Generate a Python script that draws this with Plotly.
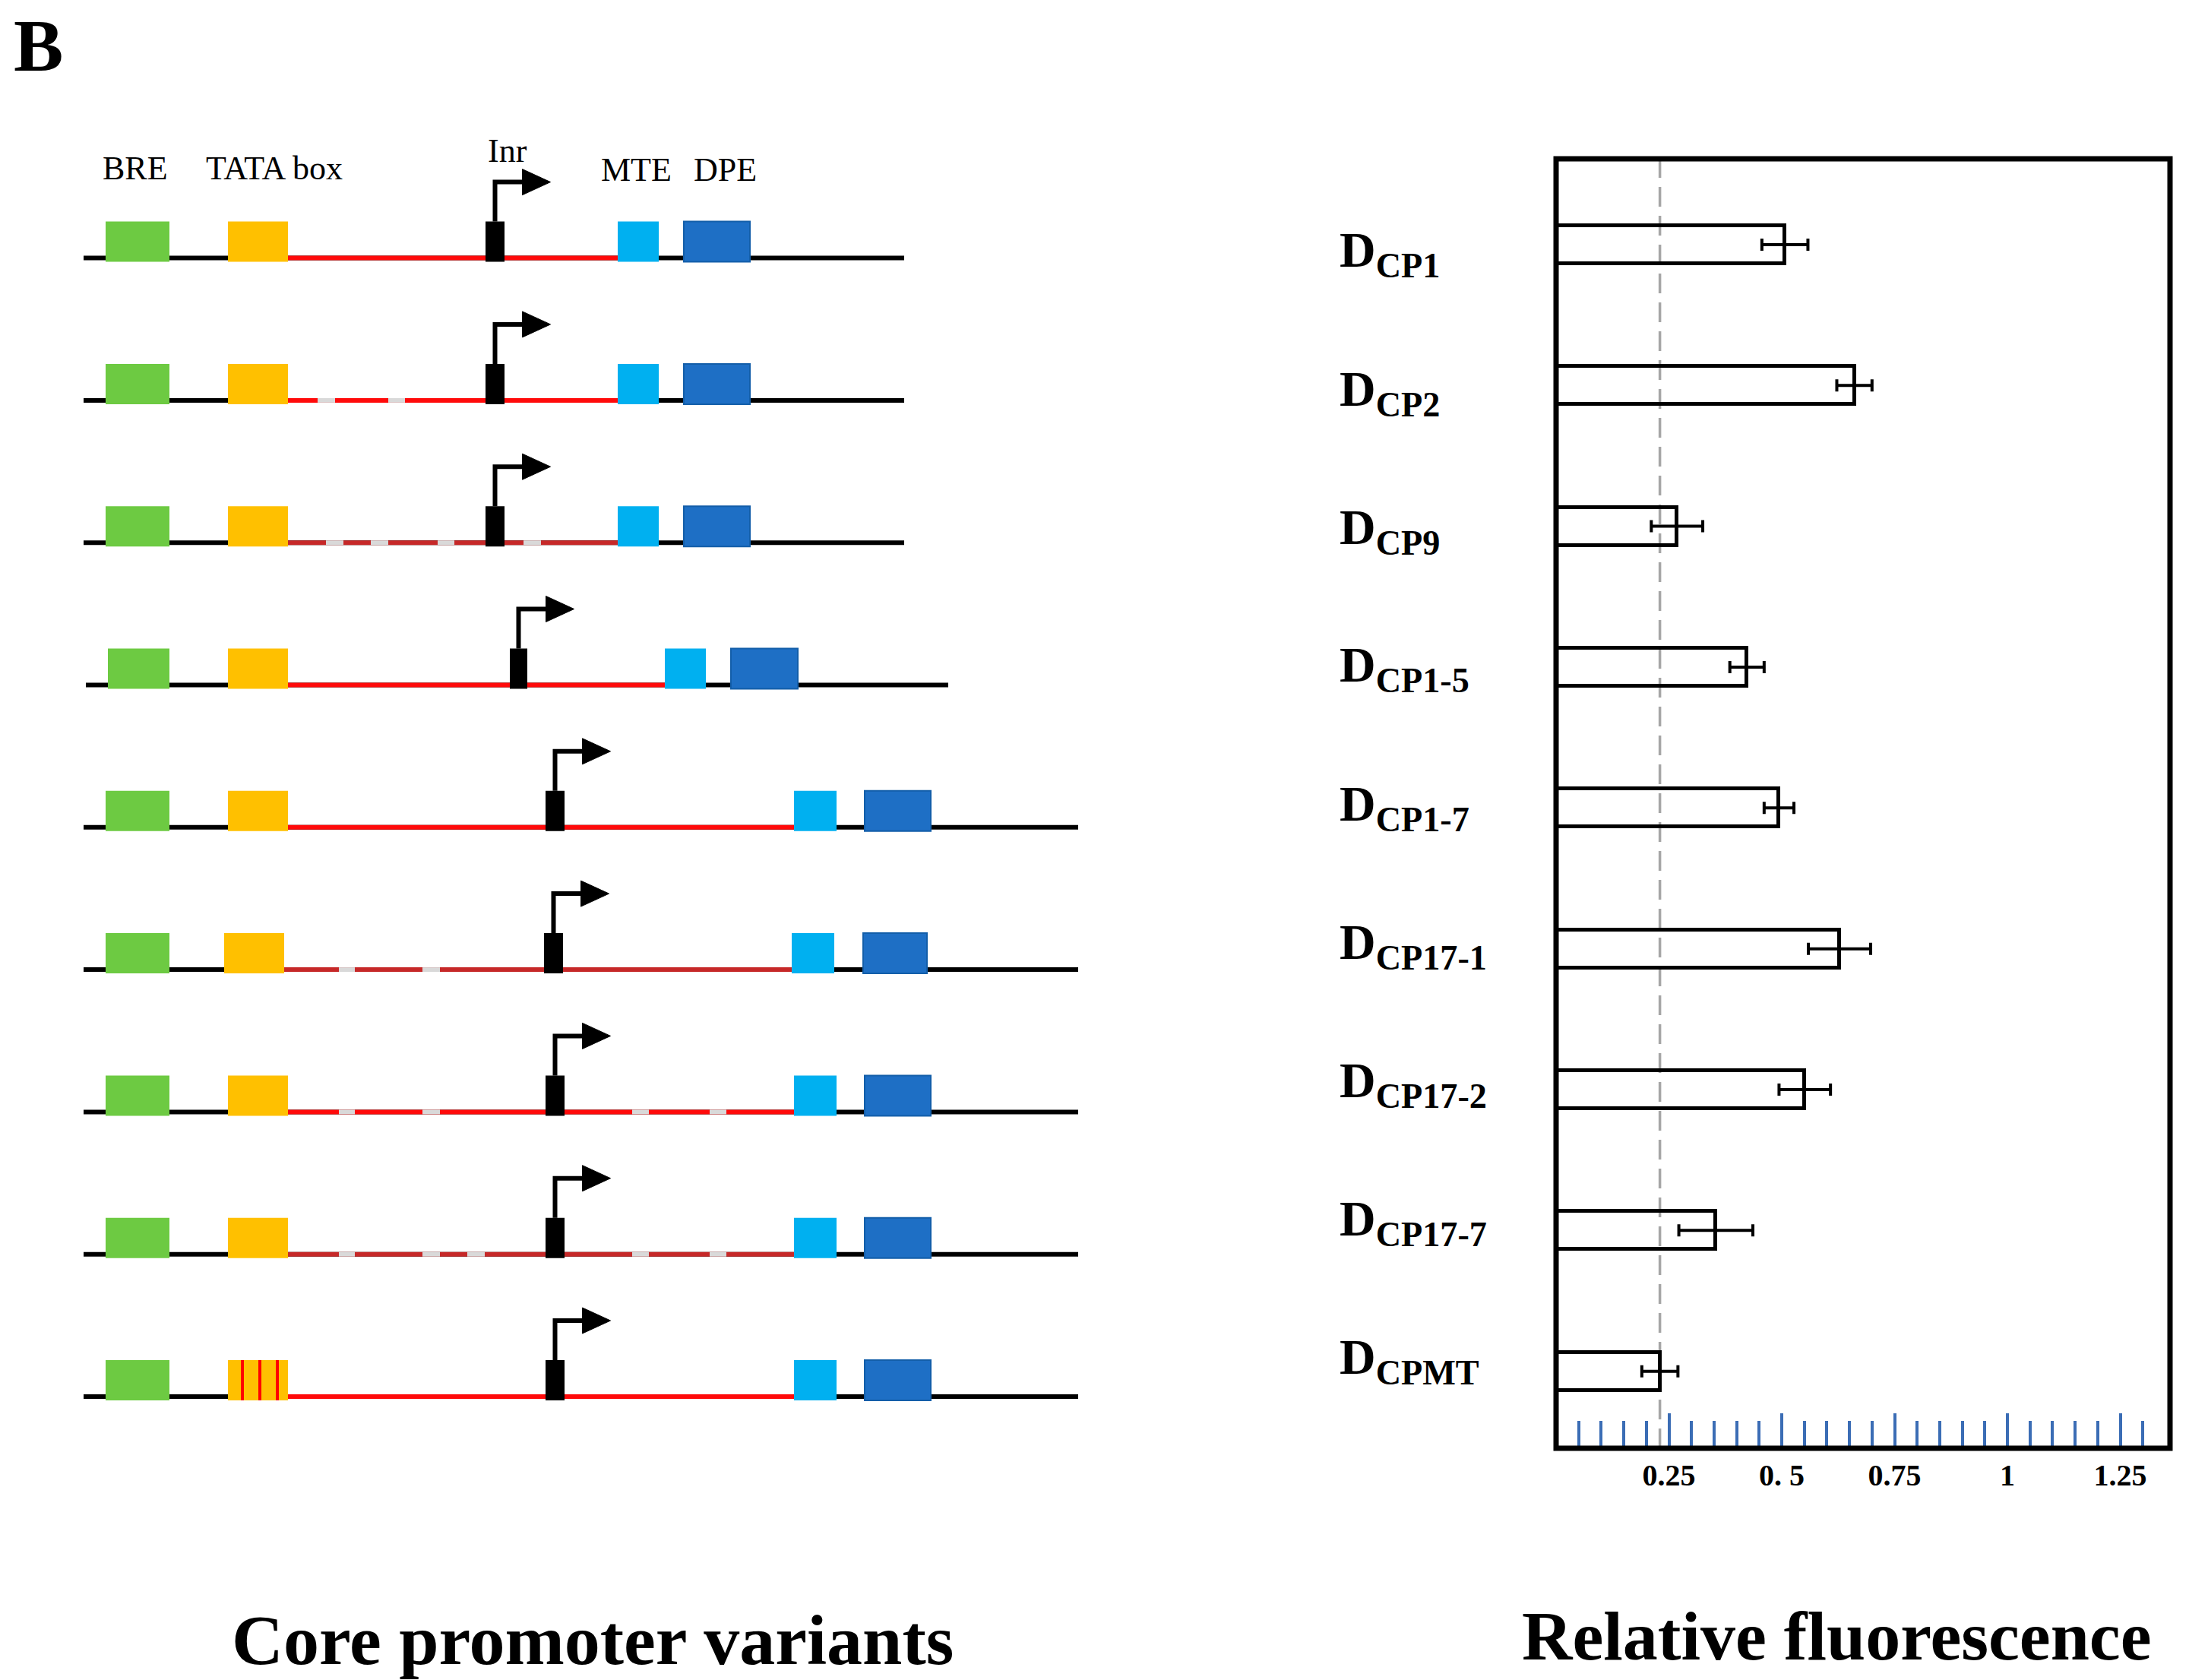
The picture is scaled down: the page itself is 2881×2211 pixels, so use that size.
import plotly.graph_objects as go

W, H = 2881, 2211
SERIF = "Liberation Serif"

# ---------------- bar chart data ----------------
constructs = ["CP1", "CP2", "CP9", "CP1-5", "CP1-7", "CP17-1", "CP17-2", "CP17-7", "CPMT"]
fluorescence = [0.507, 0.661, 0.268, 0.423, 0.494, 0.628, 0.551, 0.354, 0.230]
fluorescence_err = [0.051, 0.039, 0.057, 0.038, 0.033, 0.069, 0.057, 0.082, 0.040]
major_ticks = [0.25, 0.5, 0.75, 1.0, 1.25]
major_tick_text = ["0.25", "0. 5", "0.75", "1", "1.25"]
minor_ticks = [0.05, 0.10, 0.15, 0.20, 0.30, 0.35, 0.40, 0.45, 0.55, 0.60, 0.65,
               0.70, 0.80, 0.85, 0.90, 0.95, 1.05, 1.10, 1.15, 1.20, 1.30]

# ---------------- promoter schematic data (schematic position units) ----------------
element_labels = ["BRE", "TATA box", "Inr", "MTE", "DPE"]
element_label_pos = [178, 361, 668, 837, 954]
backbone_start = [110, 110, 110, 113, 110, 110, 110, 110, 110]
backbone_end = [1190, 1190, 1190, 1248, 1419, 1419, 1419, 1419, 1419]
bre_start = [139, 139, 139, 142, 139, 139, 139, 139, 139]
bre_end = [223, 223, 223, 223, 223, 223, 223, 223, 223]
tata_start = [300, 300, 300, 300, 300, 295, 300, 300, 300]
tata_end = [379, 379, 379, 379, 379, 374, 379, 379, 379]
inr_start = [639, 639, 639, 671, 718, 716, 718, 718, 718]
inr_end = [664, 664, 664, 694, 743, 741, 743, 743, 743]
mte_start = [813, 813, 813, 875, 1045, 1042, 1045, 1045, 1045]
mte_end = [867, 867, 867, 929, 1101, 1098, 1101, 1101, 1101]
dpe_start = [900, 900, 900, 962, 1138, 1136, 1138, 1138, 1138]
dpe_end = [987, 987, 987, 1050, 1225, 1220, 1225, 1225, 1225]
spacer_deletions = [
    [],
    [(418, 441), (511, 533)],
    [(429, 452), (488, 511), (576, 598), (689, 712)],
    [],
    [],
    [(446, 467), (556, 579)],
    [(446, 467), (556, 579), (832, 854), (934, 956)],
    [(446, 467), (556, 579), (615, 638), (832, 854), (934, 956)],
    [],
]
spacer_dark = [False, False, True, False, False, True, False, True, False]
tata_mutations = [[], [], [], [], [], [], [], [], [319, 342, 365]]

# ---------------- styles / layout constants ----------------
C_GREEN, C_YELLOW, C_LBLUE, C_DBLUE = "#6DCA42", "#FFC000", "#00B0F0", "#1E6FC5"
C_RED, C_DRED, C_GAP = "#FF0A0A", "#C62828", "#D9D9D9"
C_TICK = "#3B6DB5"

ROW0, ROWSTEP = 339.6, 187.3          # px of first schematic row, px between rows
BOX_UP, BOX_DN = 48 / ROWSTEP, 5 / ROWSTEP
ARROW_UP = 100 / ROWSTEP
HEAD_HALF = 17 / ROWSTEP
SCHEM_W = 1450

X0_PX, X1_PX, PX_PER_UNIT = 2048, 2856, 594
Y_TOP_PX, Y_BOT_PX = 209, 1906
BAR0, BARSTEP = 321.9, 185.35


def py(px):
    return 1 - px / H


fig = go.Figure()

# ---------------- bar chart ----------------
fig.add_trace(go.Bar(
    x=fluorescence, y=constructs, orientation="h", width=0.27,
    marker=dict(color="rgba(255,255,255,0)", line=dict(color="black", width=5)),
    error_x=dict(type="data", array=fluorescence_err, color="black", thickness=4, width=8),
    xaxis="x", yaxis="y", showlegend=False, hoverinfo="x+y",
))

# invisible anchor trace for the schematic axes
fig.add_trace(go.Scatter(x=[backbone_start[0]], y=[0], mode="markers",
                         marker=dict(opacity=0), xaxis="x2", yaxis="y2",
                         showlegend=False, hoverinfo="skip"))

shapes = []
# frame
shapes.append(dict(type="rect", xref="x domain", yref="y domain", x0=0, x1=1, y0=0, y1=1,
                   line=dict(color="black", width=7), layer="above"))
# control reference line (dashed) at the CPMT level
shapes.append(dict(type="line", xref="x", yref="y domain",
                   x0=fluorescence[-1], x1=fluorescence[-1], y0=0, y1=1,
                   line=dict(color="#A6A6A6", width=3.5, dash="26px,12px"), layer="below"))

# ---------------- schematic ----------------
def rect(x0, x1, r, color, lw=0, lc=None):
    return dict(type="rect", xref="x2", yref="y2", x0=x0, x1=x1, y0=r - BOX_UP, y1=r + BOX_DN,
                fillcolor=color, line=dict(width=lw, color=lc or color), layer="above")


def seg(x0, x1, r, color, w=6):
    return dict(type="line", xref="x2", yref="y2", x0=x0, x1=x1, y0=r, y1=r,
                line=dict(color=color, width=w), layer="above")


for r in range(len(constructs)):
    shapes.append(seg(backbone_start[r], backbone_end[r], r, "black"))
    red = C_DRED if spacer_dark[r] else C_RED
    shapes.append(seg(tata_end[r], mte_start[r], r, red))
    for g0, g1 in spacer_deletions[r]:
        shapes.append(seg(g0, g1, r, C_GAP))
    shapes.append(rect(bre_start[r], bre_end[r], r, C_GREEN))
    shapes.append(rect(tata_start[r], tata_end[r], r, C_YELLOW))
    for m in tata_mutations[r]:
        shapes.append(dict(type="line", xref="x2", yref="y2", x0=m, x1=m,
                           y0=r - BOX_UP, y1=r + BOX_DN, line=dict(color="#FF0000", width=4),
                           layer="above"))
    shapes.append(rect(inr_start[r], inr_end[r], r, "black"))
    shapes.append(rect(mte_start[r], mte_end[r], r, C_LBLUE))
    shapes.append(rect(dpe_start[r], dpe_end[r], r, C_DBLUE, lw=2, lc="#135EA9"))
    # transcription start arrow
    cx = (inr_start[r] + inr_end[r]) / 2
    ya = r - ARROW_UP
    shapes.append(dict(type="path", xref="x2", yref="y2",
                       path=f"M {cx},{r - BOX_UP} L {cx},{ya} L {cx + 40},{ya}",
                       line=dict(color="black", width=6), layer="above"))
    shapes.append(dict(type="path", xref="x2", yref="y2",
                       path=f"M {cx + 36},{ya - HEAD_HALF} L {cx + 73},{ya} L {cx + 36},{ya + HEAD_HALF} Z",
                       fillcolor="black", line=dict(color="black", width=1), layer="above"))

annotations = []
# element labels above the first row
label_base = [236, 236, 213, 238, 238]
for name, xp, b in zip(element_labels, element_label_pos, label_base):
    annotations.append(dict(text=name, x=xp, xref="x2", y=py(b - 0.3375 * 44), yref="paper",
                            xanchor="center", yanchor="middle", showarrow=False,
                            font=dict(family=SERIF, size=44, color="black")))

# construct labels
for i, c in enumerate(constructs):
    ypx = 334 + 182 * i
    annotations.append(dict(text=f"D<sub>{c}</sub>", x=1761 / W, xref="paper", y=py(ypx),
                            yref="paper", xanchor="left", yanchor="middle", showarrow=False,
                            font=dict(family=SERIF, size=66, color="black", weight="bold")))

# panel letter and titles
annotations.append(dict(text="B", x=16 / W, xref="paper", y=py(4), yref="paper",
                        xanchor="left", yanchor="top", showarrow=False,
                        font=dict(family=SERIF, size=98, color="black", weight="bold")))
annotations.append(dict(text="Core promoter variants", x=780 / W, xref="paper",
                        y=py(2190 - 0.3375 * 94), yref="paper", xanchor="center",
                        yanchor="middle", showarrow=False,
                        font=dict(family=SERIF, size=94, color="black", weight="bold")))
annotations.append(dict(text="Relative fluorescence", x=2417 / W, xref="paper",
                        y=py(2184 - 0.3375 * 92), yref="paper", xanchor="center",
                        yanchor="middle", showarrow=False,
                        font=dict(family=SERIF, size=92, color="black", weight="bold")))

fig.update_layout(
    width=W, height=H, margin=dict(l=0, r=0, t=0, b=0),
    paper_bgcolor="white", plot_bgcolor="rgba(0,0,0,0)",
    showlegend=False, bargap=0,
    xaxis=dict(domain=[X0_PX / W, X1_PX / W], range=[0, (X1_PX - X0_PX) / PX_PER_UNIT],
               anchor="y", showgrid=False, zeroline=False, showline=False,
               tickmode="array", tickvals=major_ticks, ticktext=major_tick_text,
               ticks="inside", ticklen=46, tickwidth=4, tickcolor=C_TICK,
               ticklabelstandoff=8,
               tickfont=dict(family=SERIF, size=40, color="black", weight="bold"),
               minor=dict(tickmode="array", tickvals=minor_ticks, ticks="inside",
                          ticklen=36, tickwidth=4, tickcolor=C_TICK, showgrid=False)),
    yaxis=dict(domain=[py(Y_BOT_PX), py(Y_TOP_PX)], type="category",
               range=[(Y_BOT_PX - BAR0) / BARSTEP, (Y_TOP_PX - BAR0) / BARSTEP],
               anchor="x", showgrid=False, zeroline=False, showline=False,
               showticklabels=False, ticks=""),
    xaxis2=dict(domain=[0, SCHEM_W / W], range=[0, SCHEM_W], anchor="y2",
                visible=False, showgrid=False, zeroline=False),
    yaxis2=dict(domain=[0, 1], range=[(H - ROW0) / ROWSTEP, -ROW0 / ROWSTEP], anchor="x2",
                visible=False, showgrid=False, zeroline=False),
    shapes=shapes, annotations=annotations,
)

fig.write_html("out.html", config={"displayModeBar": False},
               post_script="document.body.style.margin='0';document.body.style.overflow='hidden';")
